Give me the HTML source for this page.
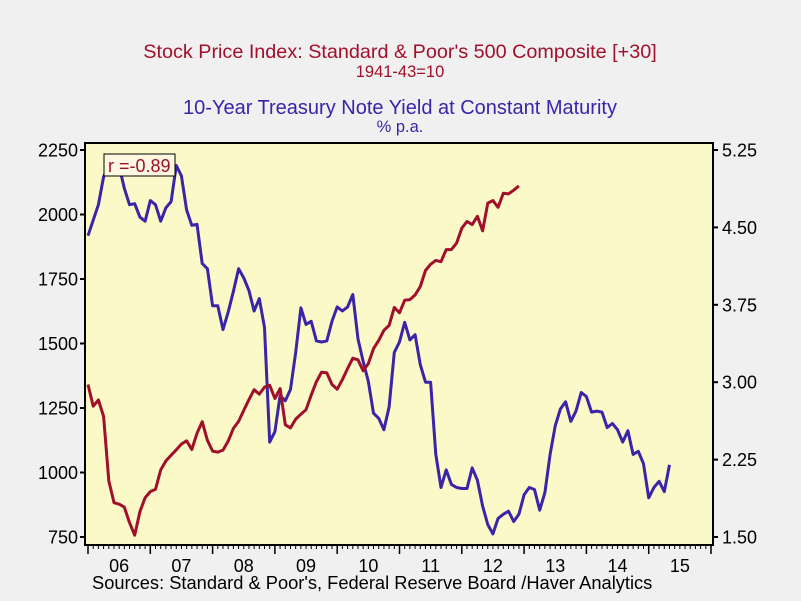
<!DOCTYPE html>
<html><head><meta charset="utf-8"><style>
html,body{margin:0;padding:0;background:#f0f0f0;}
svg{display:block;font-family:"Liberation Sans",Arial,sans-serif;}
</style></head><body>
<svg id="chart" width="801" height="601" viewBox="0 0 801 601">
<rect x="0" y="0" width="801" height="601" fill="#f0f0f0"/>
<text x="400" y="58" text-anchor="middle" font-size="19.8" fill="#a0102a">Stock Price Index: Standard &amp; Poor's 500 Composite [+30]</text>
<text x="400" y="77" text-anchor="middle" font-size="16.5" fill="#a0102a">1941-43=10</text>
<text x="400" y="114" text-anchor="middle" font-size="20" fill="#3a24a8">10-Year Treasury Note Yield at Constant Maturity</text>
<text x="400" y="132" text-anchor="middle" font-size="16.5" fill="#3a24a8">% p.a.</text>
<rect x="85" y="143" width="628" height="402" fill="#fcf9c9"/>
<g id="grid"></g>
<g id="series"></g>
<rect x="85" y="143" width="628" height="402" fill="none" stroke="#000" stroke-width="2"/>
<g>
<rect x="104" y="154" width="71" height="22" fill="#fff8e0" stroke="#000" stroke-width="1"/>
<text x="108" y="172" font-size="18" fill="#a0102a">r =-0.89</text>
</g>
<text x="92" y="589" font-size="18.3" fill="#000">Sources:  Standard &amp; Poor's, Federal Reserve Board /Haver Analytics</text>
</svg>
<script>
const leftTicks=[750,1000,1250,1500,1750,2000,2250];
const rightTicks=["1.50","2.25","3.00","3.75","4.50","5.25"];
const yearLabels=["06","07","08","09","10","11","12","13","14","15"];
const startYear=2006;
// 10-year treasury yield monthly, Jan 2006 .. May 2015
const treasury=[4.42,4.57,4.72,4.99,5.11,5.11,5.09,4.88,4.72,4.73,4.60,4.56,
4.76,4.72,4.56,4.69,4.75,5.10,5.00,4.67,4.52,4.53,4.15,4.10,
3.74,3.74,3.51,3.68,3.88,4.10,4.01,3.89,3.69,3.81,3.53,2.42,
2.52,2.87,2.82,2.93,3.29,3.72,3.56,3.59,3.40,3.39,3.40,3.59,
3.73,3.69,3.73,3.85,3.42,3.20,3.01,2.70,2.65,2.54,2.76,3.29,
3.39,3.58,3.41,3.46,3.17,3.00,3.00,2.30,1.98,2.15,2.01,1.98,
1.97,1.97,2.17,2.05,1.80,1.62,1.53,1.68,1.72,1.75,1.65,1.72,
1.91,1.98,1.96,1.76,1.93,2.30,2.58,2.74,2.81,2.62,2.72,2.90,
2.86,2.71,2.72,2.71,2.56,2.60,2.54,2.42,2.53,2.30,2.33,2.21,
1.88,1.98,2.04,1.94,2.20];
// S&P 500 monthly, advanced 30 months (plotted from Jan 2006)
const sp500=[1341,1257,1281,1217,968,883,877,
866,806,757,848,902,926,935,1010,1045,1067,1088,1110,
1123,1089,1152,1197,1125,1083,1079,1087,1122,1171,1198,1241,
1282,1321,1304,1331,1338,1287,1325,1185,1173,1207,1226,1243,
1300,1352,1389,1386,1341,1323,1360,1403,1443,1437,1394,1422,
1480,1512,1551,1570,1640,1619,1668,1670,1688,1721,1783,1807,
1822,1817,1864,1864,1889,1947,1973,1961,1993,1937,2044,2054,
2028,2082,2080,2094,2111];
const NS="http://www.w3.org/2000/svg";
const x0=88,yrW=62.3;
function xScale(t){return x0+(t-startYear)*yrW;}
function yLeft(v){return 537-(v-750)/1500*387;}
function yRight(v){return 537-(v-1.5)/3.75*387;}
function mk(tag,attrs,parent){const e=document.createElementNS(NS,tag);for(const k in attrs)e.setAttribute(k,attrs[k]);parent.appendChild(e);return e;}
const grid=document.getElementById('grid');
const ser=document.getElementById('series');
leftTicks.forEach(v=>{const y=yLeft(v);
const l=mk('line',{x1:80,x2:85,y1:y,y2:y,stroke:'#000','stroke-width':2},grid);


const t=mk('text',{x:78,y:y+6.5,'text-anchor':'end','font-size':18,fill:'#000'},grid);t.textContent=v;

});
rightTicks.forEach(s=>{const y=yRight(parseFloat(s));
const l=mk('line',{x1:713,x2:718,y1:y,y2:y,stroke:'#000','stroke-width':2},grid);


const t=mk('text',{x:722,y:y+6.5,'font-size':18,fill:'#000'},grid);t.textContent=s;

});
for(let m=0;m<=120;m++){const x=xScale(startYear+m/12);if(x>712)break;
const major=m%12===0;
const l=mk('line',{x1:x,x2:x,y1:545,y2:major?554:549,stroke:'#000','stroke-width':major?1.5:1},grid);

}
yearLabels.forEach((s,i)=>{const t=mk('text',{x:xScale(startYear+i+0.5),y:572,'text-anchor':'middle','font-size':18,fill:'#000'},grid);t.textContent=s;

});
function pts(arr,ys){return arr.map((v,i)=>xScale(startYear+i/12).toFixed(1)+','+ys(v).toFixed(1)).join(' ');}
const b=mk('polyline',{points:pts(treasury,yRight),fill:'none',stroke:'#3a24a8','stroke-width':3,'stroke-linejoin':'round'},ser);


const r=mk('polyline',{points:pts(sp500,yLeft),fill:'none',stroke:'#a0102a','stroke-width':3,'stroke-linejoin':'round'},ser);


</script>
</body></html>
